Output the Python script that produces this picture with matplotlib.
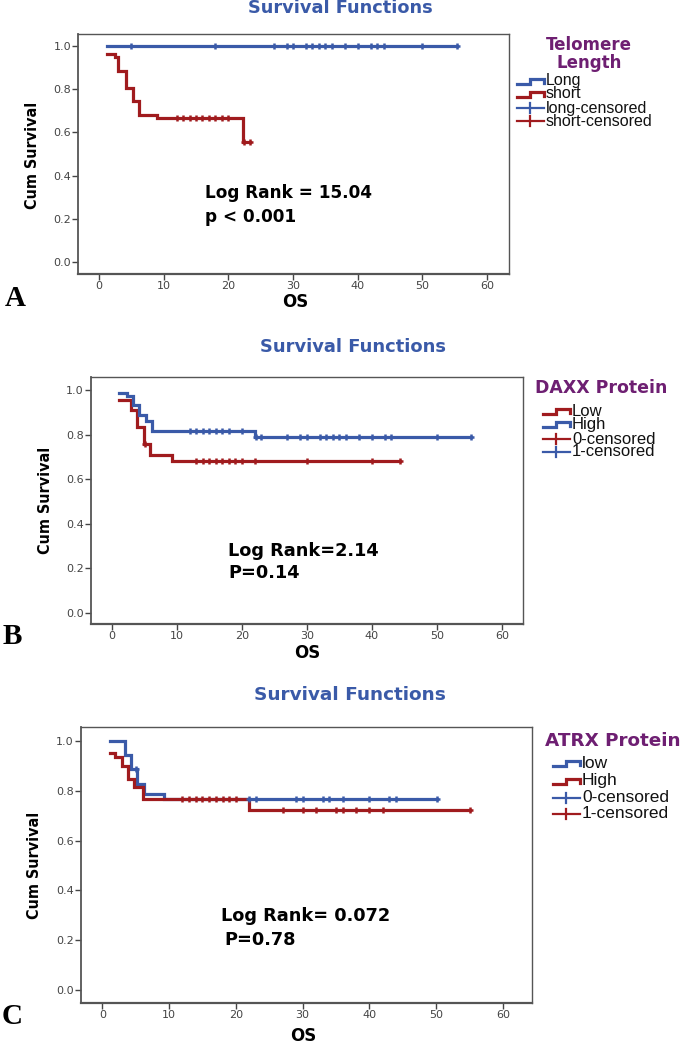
import numpy as np
import matplotlib
matplotlib.use('Agg')
import matplotlib.pyplot as plt

W, H = 685, 1043
BLUE = '#3a5aa8'
RED = '#a01b1e'
PURPLE = '#6e1f72'

# ---- panel A: telomere length ----
a_long_t = [1.2]
a_long_s = [1.0]
a_long_end = 55.3
a_long_cens = [5, 18, 27, 29, 30, 32, 33, 34, 35, 36, 38, 40, 42, 43, 44, 50, 55.3]

a_short_t = [1.2, 2.4, 3.0, 4.2, 5.3, 6.2, 8.9, 22.2]
a_short_s = [0.963, 0.95, 0.886, 0.804, 0.745, 0.679, 0.667, 0.557]
a_short_end = 23.4
a_short_cens = [12, 13, 14, 15, 16, 17, 18, 19, 20, 22.4, 23.4]

# ---- panel B: DAXX protein ----
b_low_t = [1.1, 2.9, 3.9, 4.9, 5.9, 9.2]
b_low_s = [0.957, 0.91, 0.832, 0.758, 0.708, 0.682]
b_low_end = 44.3
b_low_cens = [5.1, 13, 14, 15, 16, 17, 18, 19, 20, 22, 30, 40, 44.3]

b_high_t = [1.1, 2.3, 3.3, 4.25, 5.2, 6.15, 22.1]
b_high_s = [0.988, 0.974, 0.933, 0.888, 0.86, 0.816, 0.787]
b_high_end = 55.3
b_high_cens = [12, 13, 14, 15, 16, 17, 18, 20, 22.2, 23, 27, 29, 30, 32, 33, 34,
               35, 36, 38, 40, 42, 43, 50, 55.3]

# ---- panel C: ATRX protein ----
c_low_t = [1.15, 3.4, 4.3, 5.15, 6.25, 9.25]
c_low_s = [1.0, 0.944, 0.886, 0.826, 0.786, 0.766]
c_low_end = 50.1
c_low_cens = [5.0, 22, 23, 29, 30, 33, 34, 36, 40, 43, 44, 50.1]

c_high_t = [1.15, 1.9, 2.9, 3.9, 4.8, 6.05, 21.9]
c_high_s = [0.95, 0.937, 0.9, 0.847, 0.817, 0.766, 0.723]
c_high_end = 55.1
c_high_cens = [12, 13, 14, 15, 16, 17, 18, 19, 20, 27, 30, 32, 35, 36, 38, 40, 42, 55.1]

y_ticks = [0.0, 0.2, 0.4, 0.6, 0.8, 1.0]
x_ticks = [0, 10, 20, 30, 40, 50, 60]

fig = plt.figure(figsize=(W / 100, H / 100), dpi=100)


def px_axes(left, top, right, bottom):
    return fig.add_axes([left / W, 1 - bottom / H, (right - left) / W, (bottom - top) / H])


def km(ax, t, s, end, cens, color):
    x = list(t) + [end]
    y = list(s) + [s[-1]]
    ax.step(x, y, where='post', color=color, lw=2.3, solid_joinstyle='miter', zorder=3)
    idx = np.searchsorted(t, cens, side='right') - 1
    cy = np.array(s)[idx]
    ax.plot(cens, cy, ls='none', marker='+', ms=5, mew=1.8, color=color, zorder=4)


def style(ax, xlim, ylim):
    ax.set_xlim(*xlim)
    ax.set_ylim(*ylim)
    ax.set_xticks(x_ticks)
    ax.set_yticks(y_ticks)
    ax.set_yticklabels(['%.1f' % v for v in y_ticks])
    ax.tick_params(direction='out', length=4, width=1, colors='#444444',
                   labelsize=8, pad=1)
    for sp in ax.spines.values():
        sp.set_color('#555555')
        sp.set_linewidth(1.0)
    ax.spines['bottom'].set_linewidth(1.6)
    ax.spines['left'].set_linewidth(1.3)


# overlay in pixel coords for texts / legends
ov = fig.add_axes([0, 0, 1, 1])
ov.set_xlim(0, W)
ov.set_ylim(H, 0)
ov.axis('off')
ov.set_zorder(5)


def legend(x0, y_title, title, rows, y_rows, fs, tfs):
    ov.text(x0[1], y_title, title, color=PURPLE, fontsize=tfs, fontweight='bold',
            ha='center', va='center', family='DejaVu Sans', linespacing=1.0)
    ix = x0[0]
    for (kind, color, label), yy in zip(rows, y_rows):
        if kind == 'step':
            ov.plot([ix, ix + 13, ix + 13, ix + 27, ix + 27],
                    [yy + 2.5, yy + 2.5, yy - 2.5, yy - 2.5, yy + 1.5],
                    color=color, lw=2.3, solid_joinstyle='miter')
        else:
            ov.plot([ix, ix + 27], [yy, yy], color=color, lw=1.6)
            ov.plot([ix + 13, ix + 13], [yy - 5, yy + 5], color=color, lw=1.6)
        ov.text(ix + 29, yy, label, fontsize=fs, va='center', ha='left',
                family='Liberation Sans', color='#111111')


def texts(title_xy, tfs, ylab_xy, xlab_xy, letter_xy, letter, stats, sfs):
    ov.text(*title_xy, 'Survival Functions', color=BLUE, fontsize=tfs,
            fontweight='bold', ha='center', va='center', family='DejaVu Sans')
    ov.text(*ylab_xy, 'Cum Survival', rotation=90, fontsize=11.5, fontweight='bold',
            fontstretch='condensed', ha='center', va='center', family='DejaVu Sans')
    ov.text(*xlab_xy, 'OS', fontsize=12, fontweight='bold', ha='center', va='center',
            family='DejaVu Sans')
    ov.text(*letter_xy, letter, fontsize=21, fontweight='bold', ha='center',
            va='center', family='Liberation Serif')
    for (x, y, s) in stats:
        ov.text(x, y, s, fontsize=sfs, fontweight='bold', ha='left', va='center',
                family='DejaVu Sans')


# ---------- A ----------
axA = px_axes(78, 34, 509, 274)
km(axA, a_long_t, a_long_s, a_long_end, a_long_cens, BLUE)
km(axA, a_short_t, a_short_s, a_short_end, a_short_cens, RED)
style(axA, (-3.25, 63.4), (-0.056, 1.056))
texts((340, 8), 12.8, (33, 155), (295, 302), (15, 298), 'A',
      [(205, 193, 'Log Rank = 15.04'), (205, 217, 'p < 0.001')], 12.2)
legend((517, 589), 54, 'Telomere\nLength',
       [('step', BLUE, 'Long'), ('step', RED, 'short'),
        ('cross', BLUE, 'long-censored'), ('cross', RED, 'short-censored')],
       [81, 94, 108, 121], 11.5, 12)

# ---------- B ----------
axB = px_axes(90.7, 376.7, 522.7, 624.3)
km(axB, b_low_t, b_low_s, b_low_end, b_low_cens, RED)
km(axB, b_high_t, b_high_s, b_high_end, b_high_cens, BLUE)
style(axB, (-3.23, 63.2), (-0.052, 1.06))
texts((353, 347), 12.9, (46, 500), (307, 653), (12, 636), 'B',
      [(228, 551, 'Log Rank=2.14'), (228, 573, 'P=0.14')], 12.8)
legend((543, 601), 388,
       'DAXX Protein',
       [('step', RED, 'Low'), ('step', BLUE, 'High'),
        ('cross', RED, '0-censored'), ('cross', BLUE, '1-censored')],
       [411, 424, 439, 452], 12, 12.5)

# ---------- C ----------
axC = px_axes(80.7, 727.3, 532.3, 1002.7)
km(axC, c_low_t, c_low_s, c_low_end, c_low_cens, BLUE)
km(axC, c_high_t, c_high_s, c_high_end, c_high_cens, RED)
style(axC, (-3.24, 64.4), (-0.051, 1.055))
texts((350, 695), 13.3, (35, 865), (303, 1036), (12, 1016), 'C',
      [(221, 916, 'Log Rank= 0.072'), (224, 940, 'P=0.78')], 12.8)
legend((553, 613), 741,
       'ATRX Protein',
       [('step', BLUE, 'low'), ('step', RED, 'High'),
        ('cross', BLUE, '0-censored'), ('cross', RED, '1-censored')],
       [763, 781, 798, 814], 12.5, 13.2)

fig.savefig('out.png', dpi=100)
